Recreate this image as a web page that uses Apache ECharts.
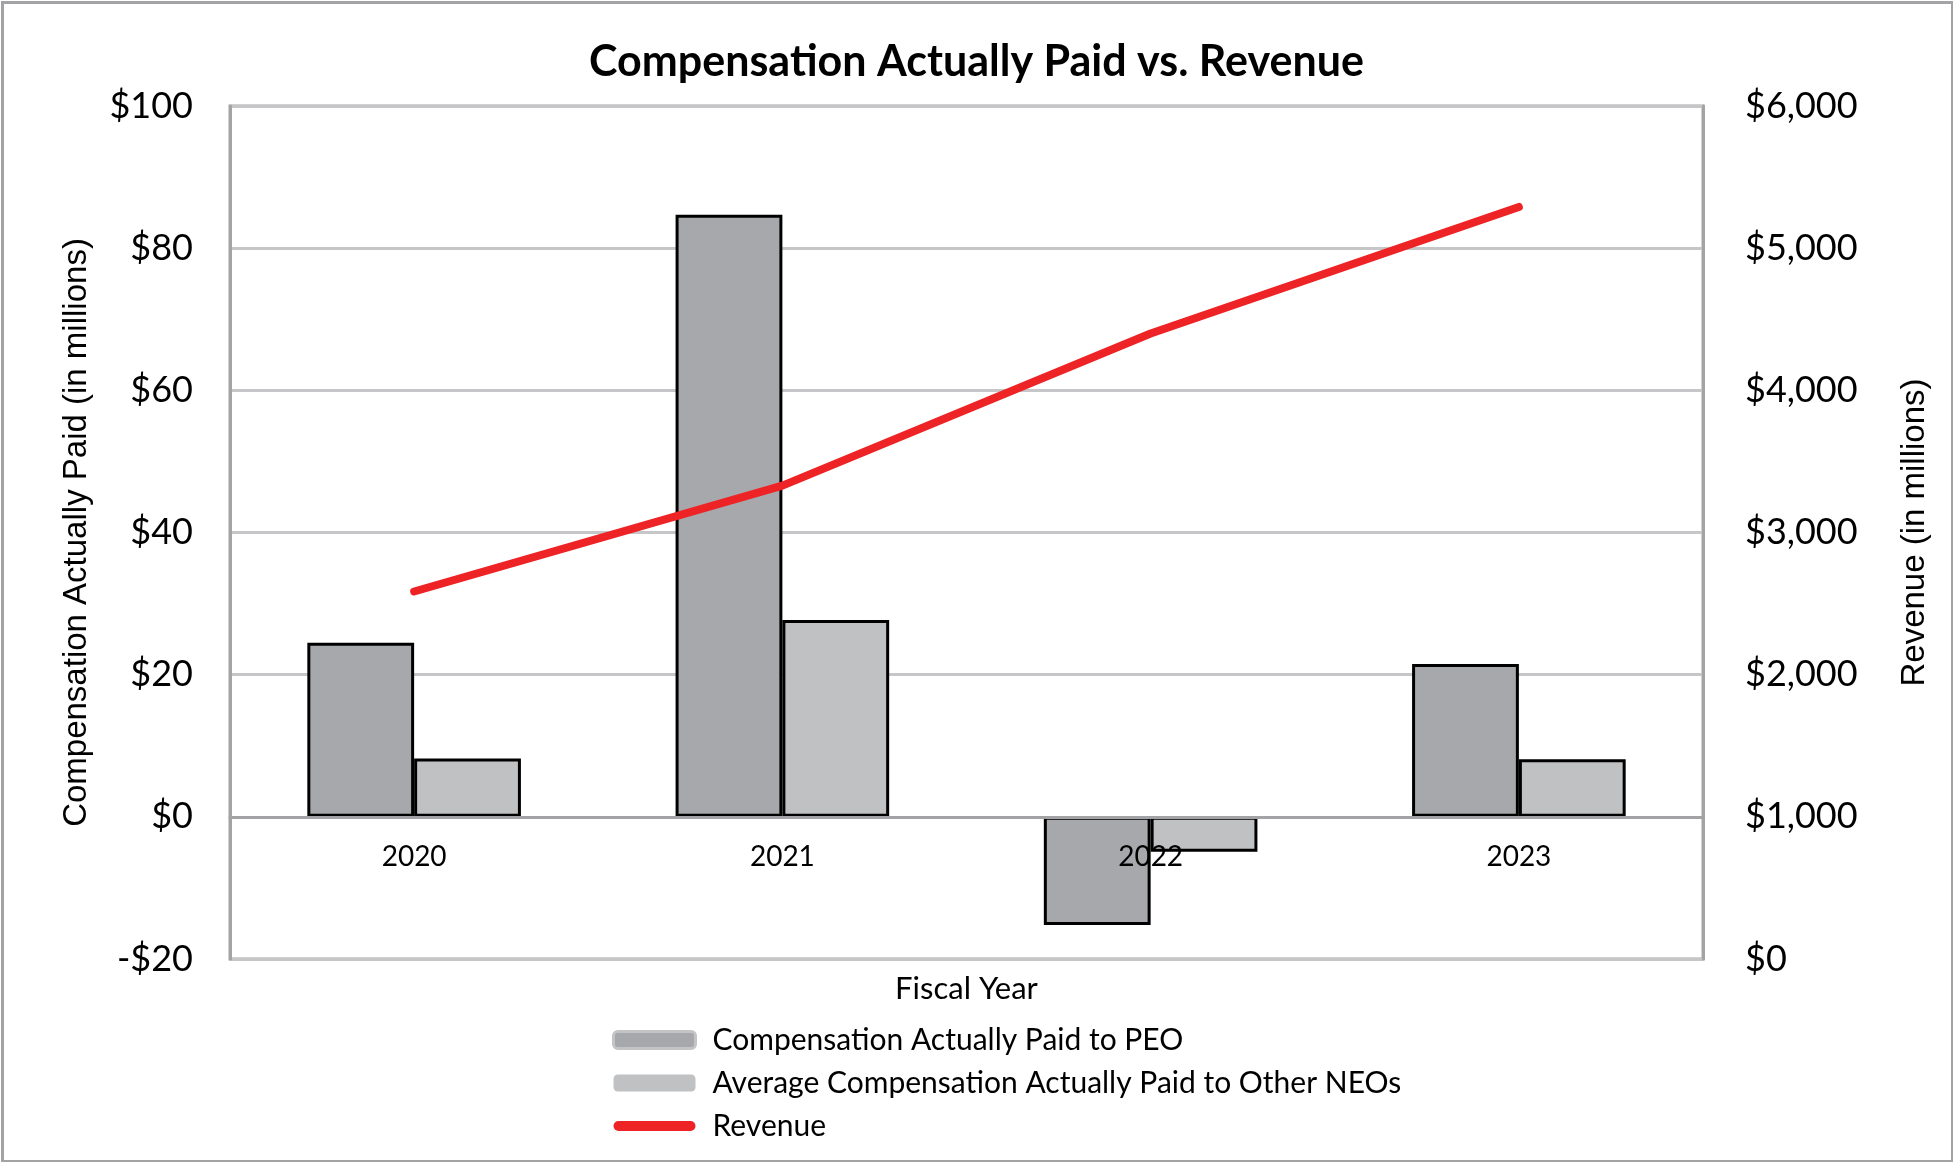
<!DOCTYPE html>
<html>
<head>
<meta charset="utf-8">
<script src="https://cdn.jsdelivr.net/npm/echarts@6/dist/echarts.min.js"></script>
<style>
html,body{margin:0;padding:0;background:#fff;}
#chart{width:1953px;height:1162px;}
</style>
</head>
<body>
<div id="chart"></div>
<script>
const categories = ['2020', '2021', '2022', '2023'];
const capPEO = [24.5, 84.7, -15.2, 21.5];
const capNEO = [8.2, 27.7, -4.9, 8.1];
const revenue = [2585, 3330, 4400, 5290];
const leftTicks = ['-$20', '$0', '$20', '$40', '$60', '$80', '$100'];
const rightTicks = ['$0', '$1,000', '$2,000', '$3,000', '$4,000', '$5,000', '$6,000'];
const seriesNames = ['Compensation Actually Paid to PEO', 'Average Compensation Actually Paid to Other NEOs', 'Revenue'];

const chart = echarts.init(document.getElementById('chart'), null, {renderer: 'canvas'});
const labelFont = 'Lato';
const gridTop = 106, gridBottom = 203, chartH = 1162;
const plotH = chartH - gridTop - gridBottom;
// shift the category axis from the bottom of the grid up to the zero line of the left axis
const zeroOffset = -plotH * (0 - (-20)) / (100 - (-20));
const option = {
  animation: false,
  backgroundColor: '#ffffff',
  graphic: [{
    type: 'rect', left: 0, top: 0, silent: true,
    shape: {x: 1.5, y: 1.5, width: 1950, height: 1159},
    style: {fill: 'none', stroke: '#A3A3A6', lineWidth: 3}
  }],
  title: {
    text: 'Compensation Actually Paid vs. Revenue',
    left: 'center', top: 36,
    textStyle: {fontFamily: labelFont, fontWeight: 'bold', fontSize: 43, color: '#000'}
  },
  legend: {
    orient: 'vertical', left: 607, top: 1020,
    itemWidth: 82, itemHeight: 17, itemGap: 13,
    symbolKeepAspect: false,
    textStyle: {fontFamily: labelFont, fontSize: 30, color: '#000', padding: [0, 0, 0, 12]},
    data: [
      {name: seriesNames[0], itemStyle: {borderColor: '#C4C4C6', borderWidth: 3}},
      {name: seriesNames[1], itemStyle: {borderWidth: 0}},
      {name: seriesNames[2],
       icon: 'path://M0,0M82,17M5,3.5L77,3.5A5,5,0,0,1,77,13.5L5,13.5A5,5,0,0,1,5,3.5Z',
       itemStyle: {color: '#EE2326', borderWidth: 0}}
    ]
  },
  grid: {left: 230, right: 250, top: gridTop, bottom: gridBottom, containLabel: false,
         show: true, borderColor: '#A3A3A6', borderWidth: 3, backgroundColor: 'transparent'},
  xAxis: [{
    type: 'category', data: categories, position: 'bottom', offset: zeroOffset, z: 4,
    axisLine: {onZero: false, lineStyle: {color: '#A3A3A6', width: 3}},
    axisTick: {show: false},
    axisLabel: {fontFamily: labelFont, fontSize: 28, color: '#000', margin: 26},
    name: 'Fiscal Year', nameLocation: 'middle', nameGap: 157,
    nameTextStyle: {fontFamily: labelFont, fontSize: 31, color: '#000'}
  }],
  yAxis: [{
    type: 'value', min: -20, max: 100, interval: 20, position: 'left',
    axisLine: {show: true, lineStyle: {color: '#A3A3A6', width: 3}},
    axisTick: {show: false},
    splitLine: {show: true, lineStyle: {color: '#C6C6C8', width: 3}},
    axisLabel: {
      fontFamily: labelFont, fontSize: 36, color: '#000', margin: 37,
      formatter: function (v) { return leftTicks[Math.round((v + 20) / 20)]; }
    },
    name: 'Compensation Actually Paid (in millions)', nameLocation: 'middle', nameGap: 137,
    nameTextStyle: {fontFamily: 'Liberation Sans', fontSize: 33, color: '#000'}
  }, {
    type: 'value', min: 0, max: 6000, interval: 1000, position: 'right',
    axisLine: {show: true, lineStyle: {color: '#A3A3A6', width: 3}},
    axisTick: {show: false},
    splitLine: {show: false},
    axisLabel: {
      fontFamily: labelFont, fontSize: 36, color: '#000', margin: 42,
      formatter: function (v) { return rightTicks[Math.round(v / 1000)]; }
    },
    name: 'Revenue (in millions)', nameLocation: 'middle', nameGap: 195,
    nameTextStyle: {fontFamily: 'Liberation Sans', fontSize: 33, color: '#000'}
  }],
  series: [{
    name: seriesNames[0], type: 'bar', data: capPEO,
    barGap: '0%', barCategoryGap: '42%',
    itemStyle: {color: '#A7A8AB', borderColor: '#000', borderWidth: 3}
  }, {
    name: seriesNames[1], type: 'bar', data: capNEO,
    barGap: '0%', barCategoryGap: '42%',
    itemStyle: {color: '#C0C1C3', borderColor: '#000', borderWidth: 3}
  }, {
    name: seriesNames[2], type: 'line', data: revenue, yAxisIndex: 1,
    symbol: 'none', z: 5,
    lineStyle: {color: '#EE2326', width: 8, cap: 'round'},
    itemStyle: {color: '#EE2326'}
  }]
};
chart.setOption(option);
</script>
</body>
</html>
